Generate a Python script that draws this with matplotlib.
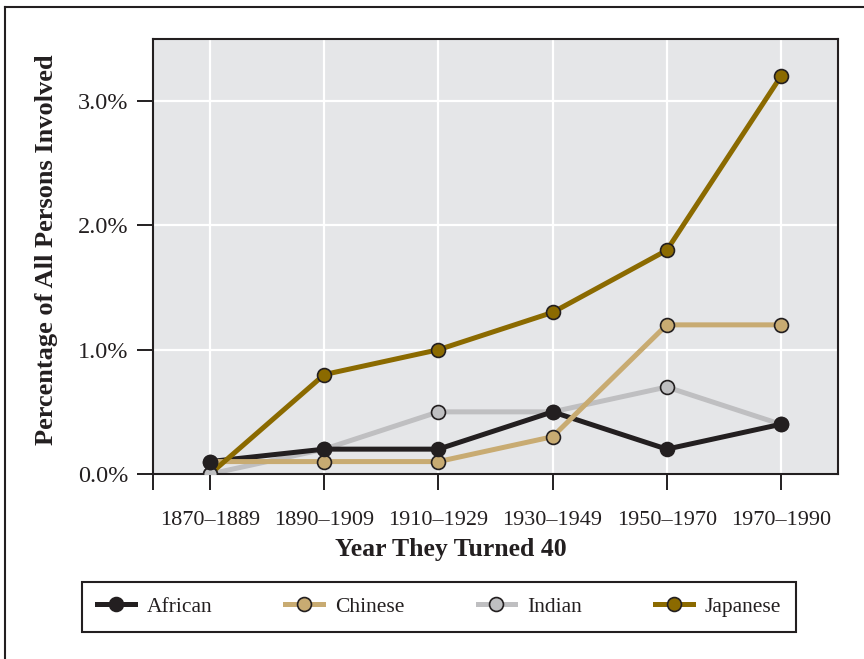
import matplotlib
matplotlib.use("Agg")
import matplotlib.pyplot as plt
from matplotlib.lines import Line2D
from matplotlib.ticker import FixedLocator

plt.rcParams['font.family'] = ['Liberation Serif', 'DejaVu Serif']

periods = ["1870\u20131889", "1890\u20131909", "1910\u20131929",
           "1930\u20131949", "1950\u20131970", "1970\u20131990"]
african = [0.1, 0.2, 0.2, 0.5, 0.2, 0.4]
chinese = [0.1, 0.1, 0.1, 0.3, 1.2, 1.2]
indian = [0.0, 0.2, 0.5, 0.5, 0.7, 0.4]
japanese = [0.0, 0.8, 1.0, 1.3, 1.8, 3.2]
y_ticks = [0.0, 1.0, 2.0, 3.0]
y_tick_labels = ["0.0%", "1.0%", "2.0%", "3.0%"]

DARK = "#231f20"
colors = {
    "African": "#231f20",
    "Chinese": "#c8ab72",
    "Indian": "#bfbfc1",
    "Japanese": "#8b6a00",
}
series = {"African": african, "Chinese": chinese,
          "Indian": indian, "Japanese": japanese}
line_z = {"Indian": 2, "African": 3, "Chinese": 4, "Japanese": 5}
point_z = {"Japanese": 6, "Indian": 7, "Chinese": 8, "African": 9}

fig = plt.figure(figsize=(8.64, 6.59), dpi=100)
ax = fig.add_axes([153 / 864, 1 - 474 / 659, (838 - 153) / 864, (474 - 39) / 659])
ax.set_facecolor("#e5e6e8")

x = list(range(len(periods)))
for name, vals in series.items():
    c = colors[name]
    ax.plot(x, vals, color=c, lw=3.6, solid_capstyle="butt", zorder=line_z[name])
    ax.plot(x, vals, ls="none", marker="o", ms=10, mfc=c, mec=DARK, mew=1.2,
            zorder=point_z[name])

ax.set_xlim(-0.5, 5.5)
ax.set_ylim(0, 3.5)
ax.set_xticks(x)
ax.set_xticklabels(periods)
ax.xaxis.set_minor_locator(FixedLocator([-0.5]))
ax.set_yticks(y_ticks)
ax.set_yticklabels(y_tick_labels)

ax.grid(True, which="major", color="white", lw=1.6)
ax.set_axisbelow(True)
for s in ax.spines.values():
    s.set_color(DARK)
    s.set_linewidth(1.5)

ax.tick_params(axis="both", which="both", direction="out", length=11.5, width=1.4,
               color=DARK, labelsize=16, labelcolor=DARK)
ax.tick_params(axis="x", which="both", pad=15)
ax.tick_params(axis="y", pad=6, labelsize=17.5)

ax.set_xlabel("Year They Turned 40", fontsize=18.5, fontweight="bold", color=DARK)
ax.xaxis.set_label_coords((451 - 153) / 685, -0.148)
ax.set_ylabel("Percentage of All Persons Involved", fontsize=19, fontweight="bold",
              color=DARK)
ax.yaxis.set_label_coords(-0.139, (474 - 250) / 435)

handles = [Line2D([], [], color=colors[n], lw=3.6, marker="o", ms=10,
                  mfc=colors[n], mec=DARK, mew=1.2) for n in series]
leg = fig.legend(handles, list(series.keys()), ncol=4, mode="expand",
                 loc="lower left",
                 bbox_to_anchor=(82 / 864, 1 - 632 / 659, (796 - 82) / 864, 52 / 659),
                 fancybox=False, edgecolor=DARK, fontsize=15.5, handlelength=1.75,
                 handletextpad=0.55, borderaxespad=0, borderpad=0.7)
leg.get_frame().set_linewidth(1.5)
leg.get_frame().set_alpha(1)
for t in leg.get_texts():
    t.set_color(DARK)

# page frame: left and top rules
fig.add_artist(Line2D([5 / 864, 5 / 864], [0, 1 - 7 / 659], color=DARK, lw=1.5))
fig.add_artist(Line2D([5 / 864, 1], [1 - 7 / 659, 1 - 7 / 659], color=DARK, lw=1.5))

fig.savefig("out.png", dpi=100)
